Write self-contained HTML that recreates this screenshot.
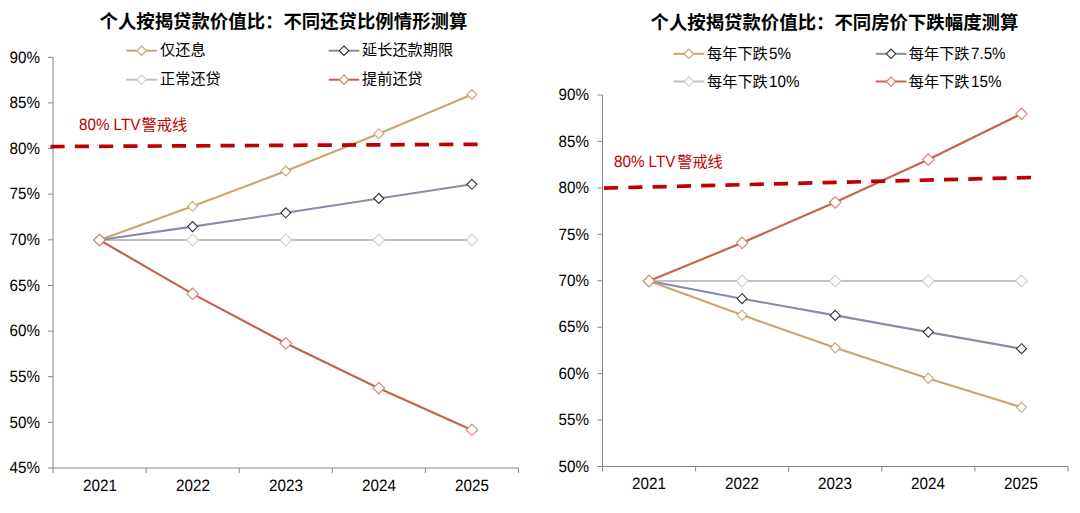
<!DOCTYPE html>
<html lang="zh-CN"><head><meta charset="utf-8"><title>个人按揭贷款价值比测算</title>
<style>
html,body{margin:0;padding:0;background:#fff}
#root{position:relative;width:1080px;height:513px;overflow:hidden;background:#fff;font-family:"Liberation Sans",sans-serif;color:#000}
#gfx{position:absolute;left:0;top:0}
.yl,.xl,.lg,.ti,.wl{position:absolute;white-space:nowrap;line-height:18px}
.yl{width:60px;text-align:right;font-size:15.2px;height:18px;transform:scaleY(1.08) rotate(0.03deg);transform-origin:50% 79.3%}
.xl{width:60px;text-align:center;font-size:15.2px;height:18px;transform:scaleY(1.08) rotate(0.03deg);transform-origin:50% 79.3%}
.lg,.wl{display:flex;align-items:center}
.wl{color:#c00000}
.lat{display:inline-block;line-height:1;position:relative;top:-1.1px;transform:scaleY(1.08) rotate(0.03deg);transform-origin:50% 84.6%}
.cjk+.lat{margin-left:1.2px}
.lat+.cjk{margin-left:1.5px}
.cjk{position:relative;display:inline-block;vertical-align:top;overflow:hidden}
.cjk .tx{position:absolute;left:0;top:0;width:100%;height:100%;overflow:hidden;color:inherit;white-space:nowrap;line-height:1.06;font-family:"Liberation Sans","Noto Sans CJK SC",sans-serif}
.ti .cjk .tx{font-weight:bold}
</style></head>
<body>
<div id="root">
<svg id="gfx" width="1080" height="513" viewBox="0 0 1080 513">
<path d="M53 57.3V468M53 468H518.5M48 57.3H53M48 102.9H53M48 148.6H53M48 194.2H53M48 239.8H53M48 285.5H53M48 331.1H53M48 376.7H53M48 422.4H53M48 468H53M53 468V473M146.1 468V473M239.2 468V473M332.3 468V473M425.4 468V473M518.5 468V473" fill="none" stroke="#868686" stroke-width="1"/>
<polyline points="99.5,240 192.6,240 285.8,240 378.8,240 471.9,240" fill="none" stroke="#c0c0c0" stroke-width="2.1" stroke-linejoin="round"/>
<path d="M99.5 234.1L105.5 240L99.5 245.9L93.6 240Z" fill="#fff" stroke="#cfcfcf" stroke-width="1.1"/>
<path d="M192.6 234.1L198.5 240L192.6 245.9L186.7 240Z" fill="#fff" stroke="#cfcfcf" stroke-width="1.1"/>
<path d="M285.8 234.1L291.6 240L285.8 245.9L279.9 240Z" fill="#fff" stroke="#cfcfcf" stroke-width="1.1"/>
<path d="M378.8 234.1L384.7 240L378.8 245.9L372.9 240Z" fill="#fff" stroke="#cfcfcf" stroke-width="1.1"/>
<path d="M471.9 234.1L477.8 240L471.9 245.9L466.1 240Z" fill="#fff" stroke="#cfcfcf" stroke-width="1.1"/>
<polyline points="99.5,240 192.6,226.6 285.8,212.8 378.8,198.5 471.9,184.3" fill="none" stroke="#878ca9" stroke-width="2.1" stroke-linejoin="round"/>
<path d="M99.5 235L104.5 240L99.5 245L94.5 240Z" fill="#fff" stroke="#333" stroke-width="1.1"/>
<path d="M192.6 221.6L197.6 226.6L192.6 231.6L187.6 226.6Z" fill="#fff" stroke="#333" stroke-width="1.1"/>
<path d="M285.8 207.8L290.8 212.8L285.8 217.8L280.8 212.8Z" fill="#fff" stroke="#333" stroke-width="1.1"/>
<path d="M378.8 193.5L383.8 198.5L378.8 203.5L373.8 198.5Z" fill="#fff" stroke="#333" stroke-width="1.1"/>
<path d="M471.9 179.3L476.9 184.3L471.9 189.3L466.9 184.3Z" fill="#fff" stroke="#333" stroke-width="1.1"/>
<polyline points="99.5,240 192.6,206.3 285.8,171 378.8,133.7 471.9,94.5" fill="none" stroke="#c9a574" stroke-width="2.1" stroke-linejoin="round"/>
<path d="M99.5 235L104.5 240L99.5 245L94.5 240Z" fill="#fff" stroke="#c9a574" stroke-width="1.1"/>
<path d="M192.6 201.3L197.6 206.3L192.6 211.3L187.6 206.3Z" fill="#fff" stroke="#c9a574" stroke-width="1.1"/>
<path d="M285.8 166L290.8 171L285.8 176L280.8 171Z" fill="#fff" stroke="#c9a574" stroke-width="1.1"/>
<path d="M378.8 128.7L383.8 133.7L378.8 138.7L373.8 133.7Z" fill="#fff" stroke="#c9a574" stroke-width="1.1"/>
<path d="M471.9 89.5L476.9 94.5L471.9 99.5L466.9 94.5Z" fill="#fff" stroke="#c9a574" stroke-width="1.1"/>
<polyline points="99.5,240 192.6,293.9 285.8,343.3 378.8,388.2 471.9,429.9" fill="none" stroke="#c6644b" stroke-width="2.2" stroke-linejoin="round"/>
<path d="M99.5 234.2L105.3 240L99.5 245.8L93.8 240Z" fill="#fff" stroke="#d4806a" stroke-width="1.1"/>
<path d="M192.6 288.1L198.4 293.9L192.6 299.6L186.9 293.9Z" fill="#fff" stroke="#d4806a" stroke-width="1.1"/>
<path d="M285.8 337.6L291.5 343.3L285.8 349.1L280 343.3Z" fill="#fff" stroke="#d4806a" stroke-width="1.1"/>
<path d="M378.8 382.4L384.6 388.2L378.8 393.9L373.1 388.2Z" fill="#fff" stroke="#d4806a" stroke-width="1.1"/>
<path d="M471.9 424.1L477.7 429.9L471.9 435.6L466.2 429.9Z" fill="#fff" stroke="#d4806a" stroke-width="1.1"/>
<path d="M50.5 146.6L479.3 144.3" stroke="#c00000" stroke-width="3.7" stroke-dasharray="14.15 10.14" fill="none"/>
<path d="M126.3 50.7H156.9" stroke="#c9a574" stroke-width="2.0"/>
<path d="M141.6 46L146.3 50.7L141.6 55.4L136.9 50.7Z" fill="#fff" stroke="#c9a574" stroke-width="1.1"/>
<path d="M328.7 50.7H359.3" stroke="#878ca9" stroke-width="2.0"/>
<path d="M344 46L348.7 50.7L344 55.4L339.3 50.7Z" fill="#fff" stroke="#333" stroke-width="1.1"/>
<path d="M126.3 79.7H156.9" stroke="#c0c0c0" stroke-width="2.0"/>
<path d="M141.6 75L146.3 79.7L141.6 84.4L136.9 79.7Z" fill="#fff" stroke="#cfcfcf" stroke-width="1.1"/>
<path d="M328.7 79.7H359.3" stroke="#c6644b" stroke-width="2.0"/>
<path d="M344 75L348.7 79.7L344 84.4L339.3 79.7Z" fill="#fff" stroke="#d4806a" stroke-width="1.1"/>
<path d="M602.5 95V466.5M602.5 466.5H1068M597.5 95H602.5M597.5 141.4H602.5M597.5 187.9H602.5M597.5 234.3H602.5M597.5 280.8H602.5M597.5 327.2H602.5M597.5 373.6H602.5M597.5 420.1H602.5M597.5 466.5H602.5M602.5 466.5V471.5M695.6 466.5V471.5M788.7 466.5V471.5M881.8 466.5V471.5M974.9 466.5V471.5M1068 466.5V471.5" fill="none" stroke="#868686" stroke-width="1"/>
<polyline points="649,281 742.1,281 835.2,281 928.3,281 1021.5,281" fill="none" stroke="#c0c0c0" stroke-width="2.1" stroke-linejoin="round"/>
<path d="M649 275.1L654.9 281L649 286.9L643.1 281Z" fill="#fff" stroke="#cfcfcf" stroke-width="1.1"/>
<path d="M742.1 275.1L748 281L742.1 286.9L736.2 281Z" fill="#fff" stroke="#cfcfcf" stroke-width="1.1"/>
<path d="M835.2 275.1L841.1 281L835.2 286.9L829.4 281Z" fill="#fff" stroke="#cfcfcf" stroke-width="1.1"/>
<path d="M928.3 275.1L934.2 281L928.3 286.9L922.4 281Z" fill="#fff" stroke="#cfcfcf" stroke-width="1.1"/>
<path d="M1021.5 275.1L1027.4 281L1021.5 286.9L1015.6 281Z" fill="#fff" stroke="#cfcfcf" stroke-width="1.1"/>
<polyline points="649,281 742.1,298.7 835.2,315.4 928.3,332.1 1021.5,348.7" fill="none" stroke="#878ca9" stroke-width="2.1" stroke-linejoin="round"/>
<path d="M649 276L654 281L649 286L644 281Z" fill="#fff" stroke="#333" stroke-width="1.1"/>
<path d="M742.1 293.7L747.1 298.7L742.1 303.7L737.1 298.7Z" fill="#fff" stroke="#333" stroke-width="1.1"/>
<path d="M835.2 310.4L840.2 315.4L835.2 320.4L830.2 315.4Z" fill="#fff" stroke="#333" stroke-width="1.1"/>
<path d="M928.3 327.1L933.3 332.1L928.3 337.1L923.3 332.1Z" fill="#fff" stroke="#333" stroke-width="1.1"/>
<path d="M1021.5 343.7L1026.5 348.7L1021.5 353.7L1016.5 348.7Z" fill="#fff" stroke="#333" stroke-width="1.1"/>
<polyline points="649,281 742.1,315.1 835.2,347.8 928.3,378.4 1021.5,407.3" fill="none" stroke="#c9a574" stroke-width="2.1" stroke-linejoin="round"/>
<path d="M649 276L654 281L649 286L644 281Z" fill="#fff" stroke="#c9a574" stroke-width="1.1"/>
<path d="M742.1 310.1L747.1 315.1L742.1 320.1L737.1 315.1Z" fill="#fff" stroke="#c9a574" stroke-width="1.1"/>
<path d="M835.2 342.8L840.2 347.8L835.2 352.8L830.2 347.8Z" fill="#fff" stroke="#c9a574" stroke-width="1.1"/>
<path d="M928.3 373.4L933.3 378.4L928.3 383.4L923.3 378.4Z" fill="#fff" stroke="#c9a574" stroke-width="1.1"/>
<path d="M1021.5 402.3L1026.5 407.3L1021.5 412.3L1016.5 407.3Z" fill="#fff" stroke="#c9a574" stroke-width="1.1"/>
<polyline points="649,281 742.1,242.8 835.2,202.3 928.3,159.5 1021.5,113.8" fill="none" stroke="#c6644b" stroke-width="2.2" stroke-linejoin="round"/>
<path d="M649 275.2L654.8 281L649 286.8L643.3 281Z" fill="#fff" stroke="#d4806a" stroke-width="1.1"/>
<path d="M742.1 237.1L747.9 242.8L742.1 248.6L736.4 242.8Z" fill="#fff" stroke="#d4806a" stroke-width="1.1"/>
<path d="M835.2 196.6L841 202.3L835.2 208.1L829.5 202.3Z" fill="#fff" stroke="#d4806a" stroke-width="1.1"/>
<path d="M928.3 153.8L934.1 159.5L928.3 165.2L922.6 159.5Z" fill="#fff" stroke="#d4806a" stroke-width="1.1"/>
<path d="M1021.5 108L1027.2 113.8L1021.5 119.5L1015.7 113.8Z" fill="#fff" stroke="#d4806a" stroke-width="1.1"/>
<path d="M604 188.1L1031.3 177.5" stroke="#c00000" stroke-width="3.7" stroke-dasharray="14.15 10.14" fill="none"/>
<path d="M673.5 53.8H704.1" stroke="#c9a574" stroke-width="2.0"/>
<path d="M688.8 49.1L693.5 53.8L688.8 58.5L684.1 53.8Z" fill="#fff" stroke="#c9a574" stroke-width="1.1"/>
<path d="M875.7 53.8H906.3" stroke="#878ca9" stroke-width="2.0"/>
<path d="M891 49.1L895.7 53.8L891 58.5L886.3 53.8Z" fill="#fff" stroke="#333" stroke-width="1.1"/>
<path d="M673.5 81.5H704.1" stroke="#c0c0c0" stroke-width="2.0"/>
<path d="M688.8 76.8L693.5 81.5L688.8 86.2L684.1 81.5Z" fill="#fff" stroke="#cfcfcf" stroke-width="1.1"/>
<path d="M875.7 81.5H906.3" stroke="#c6644b" stroke-width="2.0"/>
<path d="M891 76.8L895.7 81.5L891 86.2L886.3 81.5Z" fill="#fff" stroke="#d4806a" stroke-width="1.1"/>
</svg>
<div class="yl" style="left:-20.3px;top:48.5px">90%</div>
<div class="yl" style="left:-20.3px;top:94.2px">85%</div>
<div class="yl" style="left:-20.3px;top:139.8px">80%</div>
<div class="yl" style="left:-20.3px;top:185.4px">75%</div>
<div class="yl" style="left:-20.3px;top:231.1px">70%</div>
<div class="yl" style="left:-20.3px;top:276.7px">65%</div>
<div class="yl" style="left:-20.3px;top:322.3px">60%</div>
<div class="yl" style="left:-20.3px;top:368px">55%</div>
<div class="yl" style="left:-20.3px;top:413.6px">50%</div>
<div class="yl" style="left:-20.3px;top:459.2px">45%</div>
<div class="xl" style="left:69.8px;top:476.6px">2021</div>
<div class="xl" style="left:162.8px;top:476.6px">2022</div>
<div class="xl" style="left:255.9px;top:476.6px">2023</div>
<div class="xl" style="left:349px;top:476.6px">2024</div>
<div class="xl" style="left:442.1px;top:476.6px">2025</div>
<div class="lg" style="left:160px;top:42.4px;height:17.6px"><span class="cjk " style="width:45.5px;height:17.6px"><span class="tx" style="font-size:15.2px">仅还息</span></span></div>
<div class="lg" style="left:362px;top:42.4px;height:17.6px"><span class="cjk " style="width:90.9px;height:17.6px"><span class="tx" style="font-size:15.2px">延长还款期限</span></span></div>
<div class="lg" style="left:160px;top:71.4px;height:17.6px"><span class="cjk " style="width:60.6px;height:17.6px"><span class="tx" style="font-size:15.2px">正常还贷</span></span></div>
<div class="lg" style="left:362px;top:71.4px;height:17.6px"><span class="cjk " style="width:60.6px;height:17.6px"><span class="tx" style="font-size:15.2px">提前还贷</span></span></div>
<div class="ti" style="left:99.5px;top:11.9px"><span class="cjk " style="width:367.2px;height:21.3px"><span class="tx" style="font-size:18.4px">个人按揭贷款价值比：不同还贷比例情形测算</span></span></div>
<div class="wl" style="left:78.7px;top:117.1px;height:17.6px"><span class="lat" style="font-size:15.2px">80% LTV</span><span class="cjk " style="width:45.5px;height:17.6px"><span class="tx" style="font-size:15.2px">警戒线</span></span></div>
<div class="yl" style="left:529.3px;top:86.2px">90%</div>
<div class="yl" style="left:529.3px;top:132.7px">85%</div>
<div class="yl" style="left:529.3px;top:179.1px">80%</div>
<div class="yl" style="left:529.3px;top:225.6px">75%</div>
<div class="yl" style="left:529.3px;top:272px">70%</div>
<div class="yl" style="left:529.3px;top:318.4px">65%</div>
<div class="yl" style="left:529.3px;top:364.9px">60%</div>
<div class="yl" style="left:529.3px;top:411.3px">55%</div>
<div class="yl" style="left:529.3px;top:457.8px">50%</div>
<div class="xl" style="left:618.5px;top:475.2px">2021</div>
<div class="xl" style="left:711.6px;top:475.2px">2022</div>
<div class="xl" style="left:804.8px;top:475.2px">2023</div>
<div class="xl" style="left:897.8px;top:475.2px">2024</div>
<div class="xl" style="left:991px;top:475.2px">2025</div>
<div class="lg" style="left:707px;top:45.9px;height:17.6px"><span class="cjk " style="width:60.6px;height:17.6px"><span class="tx" style="font-size:15.2px">每年下跌</span></span><span class="lat" style="font-size:15.2px">5%</span></div>
<div class="lg" style="left:908.8px;top:45.9px;height:17.6px"><span class="cjk " style="width:60.6px;height:17.6px"><span class="tx" style="font-size:15.2px">每年下跌</span></span><span class="lat" style="font-size:15.2px">7.5%</span></div>
<div class="lg" style="left:707px;top:73.6px;height:17.6px"><span class="cjk " style="width:60.6px;height:17.6px"><span class="tx" style="font-size:15.2px">每年下跌</span></span><span class="lat" style="font-size:15.2px">10%</span></div>
<div class="lg" style="left:908.8px;top:73.6px;height:17.6px"><span class="cjk " style="width:60.6px;height:17.6px"><span class="tx" style="font-size:15.2px">每年下跌</span></span><span class="lat" style="font-size:15.2px">15%</span></div>
<div class="ti" style="left:650.5px;top:12.8px"><span class="cjk " style="width:367.2px;height:21.3px"><span class="tx" style="font-size:18.4px">个人按揭贷款价值比：不同房价下跌幅度测算</span></span></div>
<div class="wl" style="left:614.4px;top:154.2px;height:17.6px"><span class="lat" style="font-size:15.2px">80% LTV</span><span class="cjk " style="width:45.5px;height:17.6px"><span class="tx" style="font-size:15.2px">警戒线</span></span></div>
</div>
</body></html>
